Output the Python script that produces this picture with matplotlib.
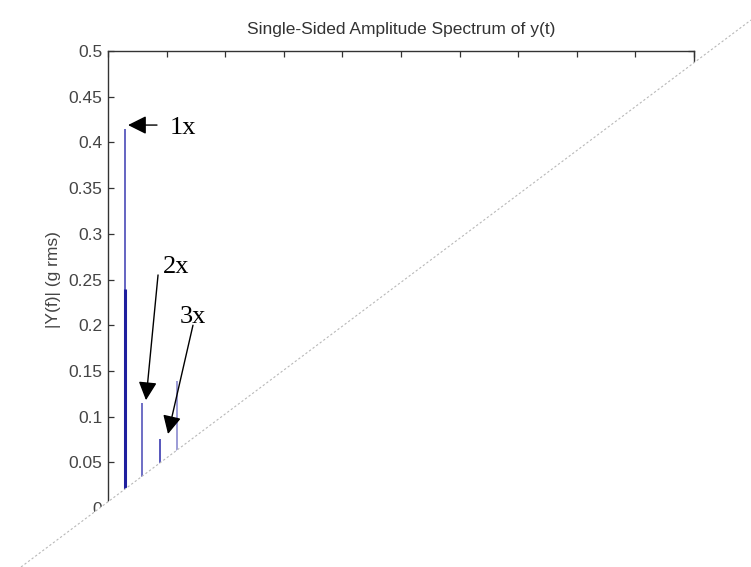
import matplotlib
matplotlib.use("Agg")
import matplotlib.pyplot as plt
from matplotlib.patches import Polygon

# spectrum lines (frequency axis assumed 0..500)
freqs = [14.5, 14.5, 29.0, 44.5, 59.0]
amps = [0.415, 0.24, 0.115, 0.0755, 0.139]
line_w = [1.2, 2.2, 1.2, 1.2, 1.2]
line_c = ["#4a4ab8", "#1f1f9e", "#5555bb", "#3a3ab0", "#8a8ad0"]

y_ticks = [0, 0.05, 0.1, 0.15, 0.2, 0.25, 0.3, 0.35, 0.4, 0.45, 0.5]
y_labels = ["0", "0.05", "0.1", "0.15", "0.2", "0.25", "0.3", "0.35", "0.4", "0.45", "0.5"]
x_ticks = list(range(0, 501, 50))

# harmonic labels: text position, arrow tail, arrow tip
harmonics = [
    ("1x", (52.9, 0.416), (41.8, 0.419), (17.1, 0.419)),
    ("2x", (46.9, 0.264), (42.7, 0.255), (32.4, 0.118)),
    ("3x", (61.4, 0.209), (72.5, 0.200), (51.2, 0.081)),
]

plt.rcParams["font.family"] = ["Liberation Sans", "DejaVu Sans"]

fig = plt.figure(figsize=(7.51, 5.67), dpi=100)
ax = fig.add_axes([0.1438, 0.104, 0.7803, 0.806])

ax.vlines(freqs, 0, amps, colors=line_c, linewidths=line_w)

ax.set_xlim(0, 500)
ax.set_ylim(0, 0.5)
ax.set_xticks(x_ticks)
ax.set_yticks(y_ticks)
ax.set_yticklabels(y_labels)
ax.tick_params(direction="in", length=4.5, width=0.9, colors="#333333",
               labelsize=12.5, top=True, right=True, labelcolor="#444444",
               pad=4)
for s in ax.spines.values():
    s.set_color("#333333")
    s.set_linewidth(1.0)

ax.set_title("Single-Sided Amplitude Spectrum of y(t)", fontsize=12.5,
             color="#333333", pad=12)
ax.set_ylabel("|Y(f)| (g rms)", fontsize=12.5, color="#444444", labelpad=5)

for label, txt, tail, tip in harmonics:
    ax.annotate("", xy=tip, xytext=tail,
                arrowprops=dict(arrowstyle="-|>", color="black", lw=1.0,
                                mutation_scale=28, shrinkA=0, shrinkB=0))
    ax.text(txt[0], txt[1], label, fontsize=19, family="Liberation Serif",
            va="center", ha="left", color="black")

# torn-off lower right corner of the scanned figure
over = fig.add_axes([0, 0, 1, 1], zorder=10)
over.set_xlim(0, 751)
over.set_ylim(567, 0)
over.axis("off")
over.patch.set_visible(False)
over.add_patch(Polygon([(21, 567), (751, 20), (751, 567)], closed=True,
                       facecolor="white", edgecolor="none"))
over.plot([21, 751], [567, 20], color="#b8b8b8", lw=0.8,
          linestyle=(0, (2, 2)))

fig.savefig("out.png", dpi=100)
plt.close()
